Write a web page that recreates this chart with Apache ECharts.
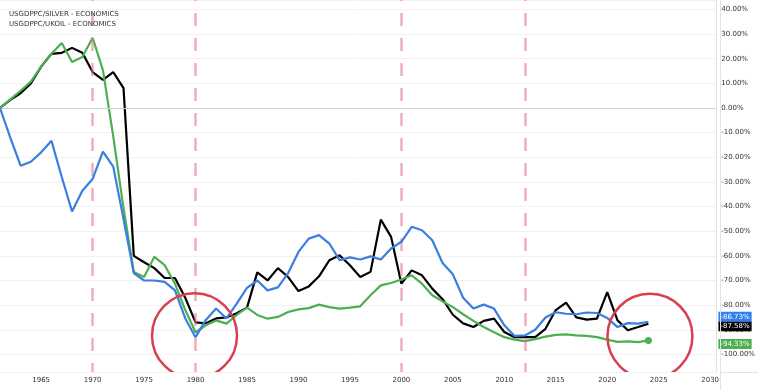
<!DOCTYPE html>
<html>
<head>
<meta charset="utf-8">
<script src="https://cdn.jsdelivr.net/npm/echarts@6/dist/echarts.min.js"></script>
<style>
html,body{margin:0;padding:0;background:#fff;}
#chart{width:758px;height:390px;}
</style>
</head>
<body>
<div id="chart"></div>
<script>
const years = [];
for (let y = 1961; y <= 2024; y++) years.push(y);

const titleLines = ['USGDPPC/SILVER - ECONOMICS', 'USGDPPC/UKOIL - ECONOMICS'];

const blueValues = [
  0, -12, -23.4, -21.8, -18, -13.3, -28, -42, -33.6, -28.8,
  -17.7, -23.8, -45, -67, -70, -70, -70.6, -74, -85.4, -93,
  -86, -81.4, -85.4, -79.4, -73, -70, -74, -72.8, -67, -58.4,
  -53, -51.6, -55, -61.8, -60.6, -61.5, -60.2, -61.5, -57, -54.3,
  -48.2, -49.6, -53.7, -62.9, -67.5, -77, -81.4, -79.8, -81.4, -88.2,
  -92.5, -92.3, -90, -85, -82.9, -83.5, -83.7, -83, -83.2, -85.2,
  -88.9, -87.3, -87.5, -86.73
];

const blackValues = [
  0, 3.3, 6, 10, 16.8, 22, 22.4, 24.4, 22.4, 14.6,
  11.4, 14.6, 8.1, -60, -62.6, -65, -69, -69, -77, -87,
  -87.4, -85.4, -85, -83.3, -81, -66.7, -70, -65, -68.6, -74.3,
  -72.4, -68.3, -61.8, -59.8, -63.8, -68.6, -66.5, -45.3, -52.3, -71.3,
  -65.9, -67.9, -73.3, -77.6, -83.9, -87.4, -88.9, -86.4, -85.5, -90.9,
  -93, -93, -93, -89.6, -82, -79, -85, -85.9, -85.5, -74.7,
  -86.2, -90.2, -88.9, -87.58
];

const greenValues = [
  0, 3.5, 7, 10.7, 16.8, 22, 26.4, 18.7, 20.7, 28.5,
  15.4, -11.4, -40.6, -66.5, -68.6, -60.4, -63.8, -71.3, -82, -91,
  -88.2, -86.2, -87.5, -84, -81, -84, -85.5, -84.8, -82.8, -81.7,
  -81.2, -79.8, -80.8, -81.4, -81, -80.5, -76, -72, -71, -69.6,
  -67.9, -71.3, -76, -78.5, -80.8, -83.7, -86.4, -88.9, -91, -93,
  -94, -94.6, -93.8, -92.8, -92.1, -91.9, -92.3, -92.5, -93, -94,
  -94.9, -94.7, -95, -94.33
];

const markerYears = [1970, 1980, 2000, 2012];
const circleCenters = [[1979.9, -92.4], [2024.15, -92.65]];

function pairs(vals) { return vals.map((v, i) => [years[i], v]); }

const chart = echarts.init(document.getElementById('chart'), null, {renderer: 'canvas'});

const pctFmt = p => p.value[1].toFixed(2) + '%';

function endLabel(bg, dy) {
  return {
    show: true, formatter: pctFmt, color: '#fff', backgroundColor: bg,
    fontSize: 7, fontFamily: 'DejaVu Sans', padding: [1, 2, 1, 2], lineHeight: 8,
    distance: 5, offset: [65, dy], align: 'left', verticalAlign: 'middle'
  };
}

const greenData = pairs(greenValues);
greenData[greenData.length - 1] = {value: greenData[greenData.length - 1], symbol: 'circle', symbolSize: 7};

const option = {
  animation: false,
  backgroundColor: '#fff',
  title: {
    text: titleLines.join('\n'), left: 4, top: 4,
    textStyle: {fontSize: 7, fontWeight: 'normal', color: '#333', lineHeight: 10, fontFamily: 'DejaVu Sans'}
  },
  grid: {left: 0, right: 38, top: 0, bottom: 18},
  xAxis: {
    type: 'value', min: 1961, max: 2030.6, minInterval: 5, maxInterval: 5,
    axisLine: {show: true, lineStyle: {color: '#e4e4e4'}},
    axisTick: {show: false},
    splitLine: {show: false},
    axisLabel: {showMinLabel: false, showMaxLabel: false, fontSize: 7, color: '#333', margin: 5,
      fontFamily: 'DejaVu Sans', formatter: v => String(v)}
  },
  yAxis: {
    type: 'value', position: 'right', min: -107.14, max: 43.83, minInterval: 10, maxInterval: 10,
    axisLine: {show: true, lineStyle: {color: '#e4e4e4'}},
    axisTick: {show: false},
    splitLine: {show: true, lineStyle: {color: '#f2f2f2'}},
    axisLabel: {showMinLabel: false, showMaxLabel: false, fontSize: 7, color: '#333', margin: 5,
      fontFamily: 'DejaVu Sans', formatter: v => v.toFixed(2) + '%'}
  },
  graphic: [
    {type: 'rect', z: 100, shape: {x: 720.5, y: 372.5, width: 40, height: 20}, style: {fill: '#fff'}},
    {type: 'line', z: 101, shape: {x1: 720.5, y1: 0, x2: 720.5, y2: 390}, style: {stroke: '#e4e4e4', lineWidth: 1}},
    {type: 'line', z: 101, shape: {x1: 720, y1: 372.5, x2: 758, y2: 372.5}, style: {stroke: '#e4e4e4', lineWidth: 1}}
  ],
  series: [
    {
      name: 'USGDPPC/UKOIL', type: 'line', data: pairs(blackValues), symbol: 'none',
      lineStyle: {color: '#000', width: 2.2}, itemStyle: {color: '#000'}, z: 3,
      endLabel: endLabel('#000', 2.5),
      markLine: {
        silent: true, symbol: ['none', 'none'], label: {show: false},
        data: [
          {yAxis: 0, lineStyle: {color: '#d0d0d0', width: 1, type: 'solid'}}
        ].concat(markerYears.map(y => ({xAxis: y,
          lineStyle: {color: 'rgba(232,120,135,0.6)', width: 2.5, type: [13, 12], dashOffset: 4}})))
      }
    },
    {
      name: 'USGDPPC/GOLD', type: 'line', data: greenData, symbol: 'none',
      lineStyle: {color: '#4caf50', width: 2.2}, itemStyle: {color: '#4caf50'}, z: 4,
      endLabel: endLabel('#4caf50', 3.5)
    },
    {
      name: 'USGDPPC/SILVER', type: 'line', data: pairs(blueValues), symbol: 'none',
      lineStyle: {color: '#3a7ee0', width: 2.2}, itemStyle: {color: '#3a7ee0'}, z: 5,
      endLabel: endLabel('#2f7ff0', -5)
    },
    {
      name: 'circles', type: 'custom', clip: true, z: 6, data: circleCenters,
      renderItem: (params, api) => {
        const p = api.coord([api.value(0), api.value(1)]);
        return {type: 'circle', shape: {cx: p[0], cy: p[1], r: 42.5},
          style: {fill: 'none', stroke: '#d8404f', lineWidth: 2.5}};
      }
    }
  ]
};
chart.setOption(option);
</script>
</body>
</html>
